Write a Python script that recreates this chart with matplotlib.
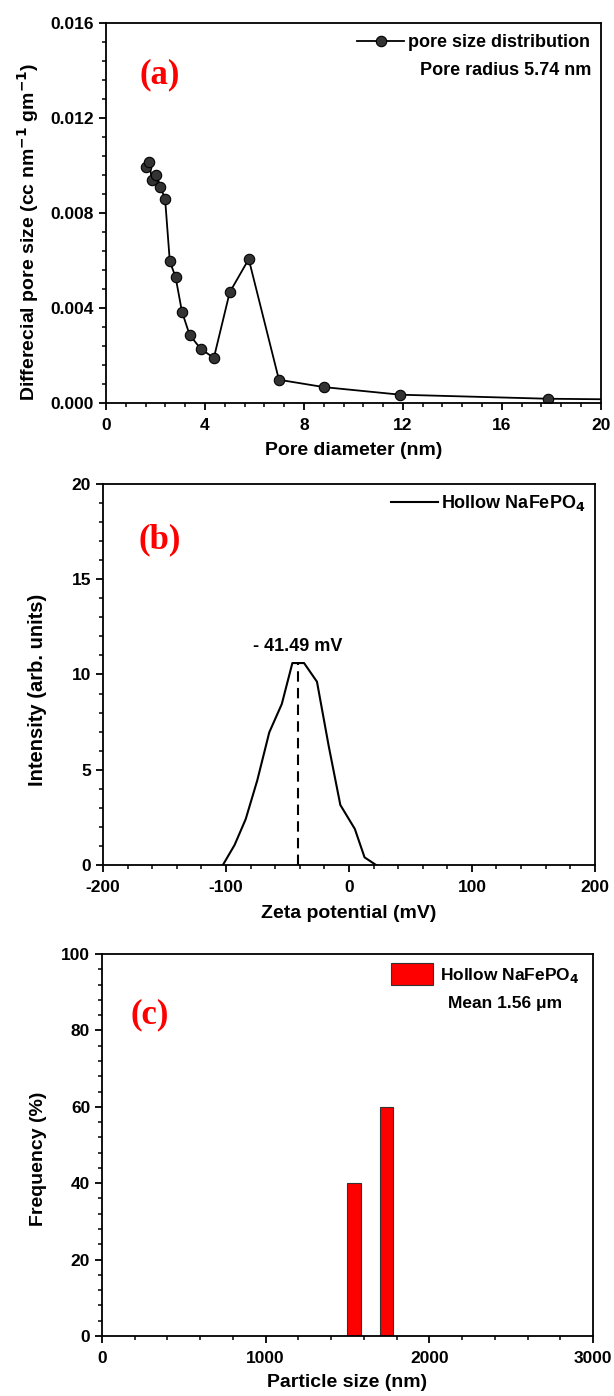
import numpy as np
import matplotlib.pyplot as plt
from matplotlib.ticker import MultipleLocator

plt.rcParams['font.family'] = ['Liberation Sans', 'DejaVu Sans']
plt.rcParams['font.weight'] = 'bold'
plt.rcParams['mathtext.default'] = 'bf'
plt.rcParams['axes.unicode_minus'] = False

# (a) pore size distribution
pore_d = [1.60, 1.75, 1.85, 2.04, 2.20, 2.39, 2.58, 2.81, 3.07, 3.38, 3.83, 4.36,
          5.00, 5.77, 6.99, 8.81, 11.9, 17.87, 24.0]
pore_v = [0.00994, 0.01016, 0.00941, 0.00960, 0.00911, 0.00858, 0.00596, 0.00532,
          0.00385, 0.00287, 0.00228, 0.00190, 0.00466, 0.00606, 0.00098, 0.00067,
          0.00035, 0.00018, 0.00012]

# (b) zeta potential
zeta_mv = [-102.5, -93, -84, -74.6, -64.8, -54.6, -46, -36.5, -26, -16.5, -7, 4.8, 12.7, 22]
zeta_int = [0, 1.05, 2.4, 4.43, 6.96, 8.45, 10.6, 10.6, 9.62, 6.26, 3.15, 1.89, 0.4, 0]
zeta_peak = -41.49

# (c) particle size histogram
size_nm = [1540, 1740]
freq = [40, 60]
bar_w = 80

TICK = 12.5
LAB = 14
LEG = 13

fig = plt.figure(figsize=(6.14, 13.96), dpi=100)
ax1 = fig.add_axes([0.1726, 0.7113, 0.806, 0.2722])
ax2 = fig.add_axes([0.1678, 0.3804, 0.801, 0.2729])
ax3 = fig.add_axes([0.1661, 0.0430, 0.7997, 0.2736])


def style(ax):
    for s in ax.spines.values():
        s.set_linewidth(1.3)
    ax.tick_params(which='major', direction='out', length=5, width=1.3, labelsize=TICK,
                   top=False, right=False)
    ax.tick_params(axis='x', which='major', pad=6)
    ax.tick_params(which='minor', direction='out', length=3, width=1.1,
                   top=False, right=False)


def panel_label(ax, s, x, y):
    ax.text(x, y, s, transform=ax.transAxes, color='red', fontsize=25,
            fontweight='bold', family='Liberation Serif', ha='center', va='center')


# panel (a)
ax1.plot(pore_d, pore_v, '-o', color='black', lw=1.3, ms=7.5, mfc='#333333',
         mec='black', mew=0.8, label='pore size distribution')
ax1.set_xlim(0, 20)
ax1.set_ylim(0, 0.016)
ax1.xaxis.set_major_locator(MultipleLocator(4))
ax1.xaxis.set_minor_locator(MultipleLocator(0.8))
ax1.yaxis.set_major_locator(MultipleLocator(0.004))
ax1.yaxis.set_minor_locator(MultipleLocator(0.0008))
ax1.yaxis.set_major_formatter(plt.FormatStrFormatter('%.3f'))
ax1.set_xlabel('Pore diameter (nm)', fontsize=LAB, fontweight='bold')
ax1.set_ylabel('Differecial pore size (cc nm$^{-1}$ gm$^{-1}$)', fontsize=LAB,
               fontweight='bold')
ax1.xaxis.set_label_coords(0.5, -0.103)
ax1.yaxis.set_label_coords(-0.132, 0.45)
ax1.legend(loc='upper right', frameon=False, fontsize=LEG, handlelength=2.6,
           handletextpad=0.2, borderaxespad=0.2)
ax1.text(0.98, 0.875, 'Pore radius 5.74 nm', transform=ax1.transAxes, fontsize=LEG,
         fontweight='bold', ha='right', va='center')
panel_label(ax1, '(a)', 0.109, 0.863)
style(ax1)

# panel (b)
ax2.plot(zeta_mv, zeta_int, color='black', lw=1.5, label='Hollow NaFePO$_4$')
ax2.plot([zeta_peak, zeta_peak], [0, max(zeta_int)], color='black', lw=1.5,
         ls=(0, (5, 3)))
ax2.text(zeta_peak, max(zeta_int) + 0.4, '- 41.49 mV', fontsize=LEG, fontweight='bold',
         ha='center', va='bottom')
ax2.set_xlim(-200, 200)
ax2.set_ylim(0, 20)
ax2.xaxis.set_major_locator(MultipleLocator(100))
ax2.xaxis.set_minor_locator(MultipleLocator(20))
ax2.yaxis.set_major_locator(MultipleLocator(5))
ax2.yaxis.set_minor_locator(MultipleLocator(1))
ax2.set_xlabel('Zeta potential (mV)', fontsize=LAB, fontweight='bold')
ax2.set_ylabel('Intensity (arb. units)', fontsize=14.5, fontweight='bold')
ax2.xaxis.set_label_coords(0.5, -0.104)
ax2.yaxis.set_label_coords(-0.114, 0.46)
ax2.legend(loc='upper right', frameon=False, fontsize=LEG, handlelength=2.6,
           handletextpad=0.2, borderaxespad=0.1)
panel_label(ax2, '(b)', 0.116, 0.853)
style(ax2)

# panel (c)
ax3.bar(size_nm, freq, width=bar_w, color='red', edgecolor='#333333', lw=0.8,
        label='Hollow NaFePO$_4$')
ax3.set_xlim(0, 3000)
ax3.set_ylim(0, 100)
ax3.xaxis.set_major_locator(MultipleLocator(1000))
ax3.xaxis.set_minor_locator(MultipleLocator(200))
ax3.yaxis.set_major_locator(MultipleLocator(20))
ax3.yaxis.set_minor_locator(MultipleLocator(4))
ax3.set_xlabel('Particle size (nm)', fontsize=LAB, fontweight='bold')
ax3.set_ylabel('Frequency (%)', fontsize=LAB, fontweight='bold')
ax3.xaxis.set_label_coords(0.5, -0.1)
ax3.yaxis.set_label_coords(-0.112, 0.463)
ax3.legend(loc='upper right', frameon=False, fontsize=12.5, handlelength=2.4,
           handleheight=1.6, handletextpad=0.4, borderaxespad=0.1,
           bbox_to_anchor=(0.99, 1.0))
ax3.text(0.705, 0.87, 'Mean 1.56 \u03bcm', transform=ax3.transAxes, fontsize=12.5,
         fontweight='bold', ha='left', va='center')
panel_label(ax3, '(c)', 0.098, 0.84)
style(ax3)

fig.savefig('out.png', dpi=100)
